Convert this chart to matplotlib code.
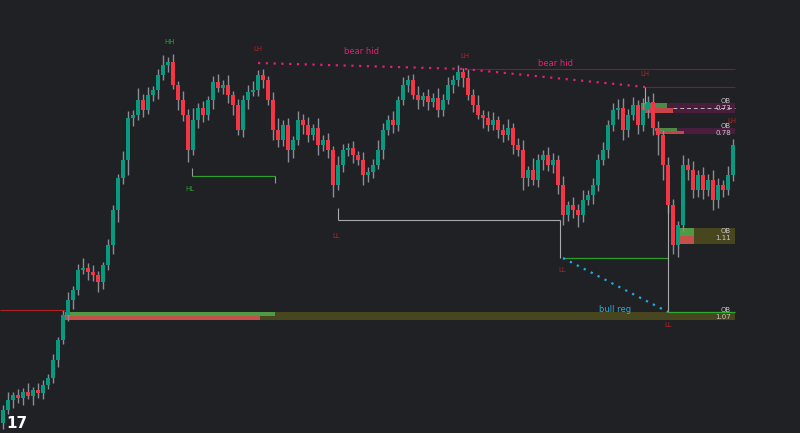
import matplotlib
matplotlib.use("Agg")
import matplotlib.pyplot as plt
from matplotlib.patches import Rectangle

closes = [23,33,38,35,41,37,43,40,48,55,
          73,93,118,133,143,163,165,161,158,151,
          168,188,223,255,273,315,318,333,323,338,
          343,358,368,371,348,333,318,283,313,325,
          318,333,351,345,348,338,328,303,333,341,
          343,358,353,333,303,293,308,283,293,313,
          308,298,305,288,293,283,248,268,283,285,
          278,273,258,261,268,283,303,313,308,333,
          348,353,338,333,337,331,335,323,333,348,
          353,361,355,338,328,318,315,308,313,303,
          298,305,288,283,255,263,253,273,278,268,
          273,248,218,228,223,218,233,238,248,273,
          283,308,323,325,303,318,328,308,323,331,
          305,298,268,228,188,208,268,263,243,258,
          243,253,233,248,243,258,288]
first_open = 10
up_wick = [5,8,3,6,4,9,3,7,5,4, 6,3,5,8,4,6,10,5,7,4, 3,6,5,4,9,7,5,12,6,8,
           4,6,10,5,8,4,9,6,12,5, 7,4,6,8,5,10,4,6,5,7, 9,5,6,4,8,12,5,7,4,9,
           6,8,4,10,5,7,4,9,6,5, 7,4,8,5,6,10,7,5,9,4, 8,5,6,9,4,7,5,10,6,8,
           5,7,4,9,6,10,5,7,8,4, 6,9,5,7,10,4,12,6,5,8, 7,5,9,4,8,6,10,5,7,6,
           8,5,7,9,10,6,8,5,12,6, 9,7,5,8,6,4,10,7,9,5, 8,6,10,7,5,9,6]
dn_wick = [6,4,8,5,7,3,9,5,6,4, 5,7,4,6,9,5,4,8,6,10, 7,5,9,12,6,15,8,5,7,4,
           6,9,5,7,4,10,6,12,5,8, 7,5,9,4,6,8,10,5,7,9, 4,6,8,5,10,7,6,12,8,5,
           9,7,5,10,6,8,12,5,7,6, 8,5,10,7,6,4,9,5,8,6, 5,7,4,9,6,8,5,7,6,4,
           8,6,9,5,7,4,10,6,5,8, 7,5,9,6,12,8,5,7,10,6, 8,9,10,6,8,12,7,5,9,6,
           5,8,6,9,10,7,5,9,6,8, 7,20,15,8,9,12,6,10,8,7, 9,6,10,8,7,5,6]

bg = "#202124"
up_c, dn_c, wick_c = "#089981", "#f23645", "#8a8d96"

fig = plt.figure(figsize=(8, 4.33), dpi=100, facecolor=bg)
ax = fig.add_axes([0, 0, 1, 1], facecolor=bg)
ax.set_xlim(-0.6, 159.4)
ax.set_ylim(0, 433)
ax.axis("off")

opens = [first_open] + closes[:-1]
for i, (o, c) in enumerate(zip(opens, closes)):
    hi = max(o, c) + up_wick[i]
    lo = min(o, c) - dn_wick[i]
    ax.vlines(i, lo, hi, color=wick_c, lw=1.0, zorder=2)
    col = up_c if c >= o else dn_c
    ax.add_patch(Rectangle((i - 0.38, min(o, c)), 0.76, max(abs(c - o), 1.5),
                           color=col, lw=0, zorder=3))

def zone(x0, x1, y0, y1, col, a=1.0, z=1):
    ax.add_patch(Rectangle((x0, y0), x1 - x0, y1 - y0, color=col, alpha=a, lw=0, zorder=z))

zone(12.4, 146.4, 113, 121, "#48461e")
zone(12.4, 54.4, 117, 121, "#4e9a45", z=1.5)
zone(12.4, 51.4, 113, 117, "#c4504a", z=1.5)
zone(127.6, 146.4, 320, 330, "#4a1d3c")
zone(127.6, 132.8, 325, 330, "#4e8a45", z=1.5)
zone(127.6, 134, 320, 325, "#c4464a", z=1.5)
ax.hlines(325, 134, 146.4, colors="#bbbbbb", lw=0.7, linestyles=(0, (4, 3)), zorder=2)
zone(130.4, 146.4, 299, 305, "#4a1d3c")
zone(130.4, 134.8, 302, 305, "#4e8a45", z=1.5)
zone(130.8, 136.2, 299, 302, "#c4464a", z=1.5)
zone(134.6, 146.4, 189, 205, "#48461e")
zone(134.6, 138.2, 197, 205, "#4e9a45", z=1.5)
zone(134.6, 138.2, 189, 197, "#c4504a", z=1.5)
for (yy, val) in [(326, "0.73"), (301, "0.78"), (196, "1.11"), (117, "1.07")]:
    ax.text(145.6, yy + 3, "OB", color="#c8c8c8", fontsize=5, ha="right", va="bottom", zorder=5)
    ax.text(145.6, yy + 2, val, color="#c8c8c8", fontsize=5, ha="right", va="top", zorder=5)

ax.hlines(123, -0.6, 12.4, colors="#b22222", lw=0.8)
ax.hlines(364, 92.4, 146.4, colors="#8b1a1a", lw=0.8)
ax.hlines(346, 128.4, 146.4, colors="#8b1a1a", lw=0.8)
ax.hlines(257, 37.8, 54.4, colors="#2e9e2e", lw=0.9)
ax.vlines(37.8, 257, 265, colors="#999999", lw=0.8)
ax.vlines(54.4, 250, 257, colors="#999999", lw=0.8)
ax.hlines(213, 67, 111.4, colors="#aaaaaa", lw=0.8)
ax.vlines(67, 213, 225, colors="#aaaaaa", lw=0.8)
ax.vlines(111.4, 175, 213, colors="#aaaaaa", lw=0.8)
ax.hlines(175, 112, 133, colors="#2e9e2e", lw=0.9)
ax.vlines(133, 121, 233, colors="#aaaaaa", lw=0.8)
ax.hlines(121, 133, 146.4, colors="#2eaa2e", lw=0.9)
ax.vlines(128.4, 330, 346, colors="#aaaaaa", lw=0.8)

ax.plot([51, 92.4], [370, 364], ls=(0, (1, 2.5)), color="#e0207a", lw=1.6)
ax.plot([92.4, 128.4], [364, 346], ls=(0, (1, 2.5)), color="#e0207a", lw=1.6)
ax.plot([112, 133], [175, 121], ls=(0, (1, 2.5)), color="#1ab0e0", lw=1.6)

lab = dict(fontsize=5, ha="center", va="center", zorder=5)
ax.text(33.4, 391, "HH", color="#2e9e2e", **lab)
ax.text(37.4, 244, "HL", color="#2e9e2e", **lab)
for (x, y) in [(51, 384), (92.4, 377), (128.4, 359), (145.8, 312)]:
    ax.text(x, y, "LH", color="#b22222", **lab)
for (x, y) in [(66.6, 197), (111.8, 163), (133, 108)]:
    ax.text(x, y, "LL", color="#b22222", **lab)
ax.text(71.6, 382, "bear hid", color="#e0207a", fontsize=6, ha="center", va="center")
ax.text(110.4, 370, "bear hid", color="#e0207a", fontsize=6, ha="center", va="center")
ax.text(122.4, 123, "bull reg", color="#1ab0e0", fontsize=6, ha="center", va="center")
ax.text(0.6, 10, "17", color="white", fontsize=11, fontweight="bold", ha="left", va="center", zorder=6)

fig.savefig("out.png", dpi=100, facecolor=bg)
